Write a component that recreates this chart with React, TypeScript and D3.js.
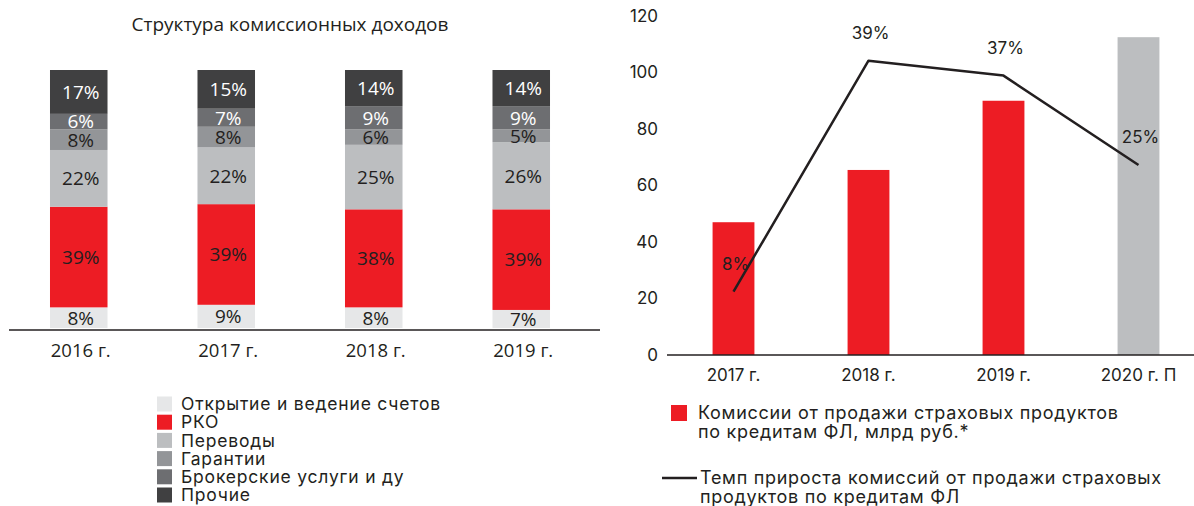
import React from "react";
import * as d3 from "d3";

// left chart: structure of commission income, %
const years = ["2016 г.", "2017 г.", "2018 г.", "2019 г."];
const categories = [
  "Открытие и ведение счетов",
  "РКО",
  "Переводы",
  "Гарантии",
  "Брокерские услуги и ду",
  "Прочие",
];
const shares = [
  [8, 39, 22, 8, 6, 17],
  [9, 39, 22, 8, 7, 15],
  [8, 38, 25, 6, 9, 14],
  [7, 39, 26, 5, 9, 14],
];

// right chart: insurance commissions
const years2 = ["2017 г.", "2018 г.", "2019 г.", "2020 г. П"];
const commissions = [47, 65.5, 90, 112.5];
const forecast = [false, false, false, true];
const growth = [8, 39, 37, 25];
const yTicks = [0, 20, 40, 60, 80, 100, 120];

const catColors = ["#e6e7e8", "#ed1c24", "#bcbec0", "#939598", "#6d6e71", "#404041"];
const catText = ["#231f20", "#231f20", "#231f20", "#231f20", "#ffffff", "#ffffff"];
const ink = "#231f20";
const leftFont = "'Open Sans', sans-serif";
const rightFont = "Inter, 'Noto Sans', sans-serif";

export default function App() {
  const x = d3.scaleBand().domain(years).range([5, 595]).paddingInner(0.61).paddingOuter(0.305);
  const y = d3.scaleLinear().domain([0, 100]).range([328, 70]);

  const stackData = years.map((yr, i) => {
    const row: any = { year: yr };
    categories.forEach((c, j) => (row[c] = shares[i][j]));
    return row;
  });
  const series = d3.stack().keys(categories)(stackData);

  const x2 = d3.scaleBand().domain(years2).range([666, 1206]).paddingInner(0.69).paddingOuter(0.345);
  const y2 = d3.scaleLinear().domain([0, 120]).range([355, 16]);
  const yg = d3.scaleLinear().domain([-0.5, 45]).range([355, 16]);
  const cx = (d: string) => (x2(d) as number) + x2.bandwidth() / 2;

  const line = d3
    .line<number>()
    .x((_, i) => cx(years2[i]))
    .y((d) => yg(d));

  return (
    <div style={{ position: "absolute", left: 0, top: 0 }}>
      <svg width={1194} height={506} style={{ display: "block", background: "#fff" }}>
        {/* left chart */}
        <text x={290} y={24} dy="0.35em" textAnchor="middle" fontFamily={leftFont} fontSize={19} fill={ink}>
          Структура комиссионных доходов
        </text>
        {series.map((s, j) => (
          <g key={s.key}>
            {s.map((d, i) => (
              <g key={i}>
                <rect
                  x={x(years[i])}
                  y={y(d[1])}
                  width={x.bandwidth()}
                  height={y(d[0]) - y(d[1])}
                  fill={catColors[j]}
                />
                <text
                  x={(x(years[i]) as number) + x.bandwidth() / 2 + 2}
                  y={(y(d[0]) + y(d[1])) / 2}
                  dy="0.36em"
                  textAnchor="middle"
                  fontFamily={leftFont}
                  fontSize={19}
                  fill={catText[j]}
                >
                  {shares[i][j]}%
                </text>
              </g>
            ))}
          </g>
        ))}
        <line x1={9} x2={600} y1={330} y2={330} stroke={ink} strokeWidth={1.5} />
        {years.map((yr) => (
          <text
            key={yr}
            x={(x(yr) as number) + x.bandwidth() / 2 + 2}
            y={351}
            dy="0.35em"
            textAnchor="middle"
            fontFamily={leftFont}
            fontSize={18.5}
            fill={ink}
          >
            {yr}
          </text>
        ))}
        {categories.map((c, j) => (
          <g key={c} transform={`translate(157,${404 + j * 18.2})`}>
            <rect x={0} y={-7.5} width={15} height={15} fill={catColors[j]} />
            <text x={24} y={0} dy="0.35em" fontFamily={rightFont} fontSize={17.5} letterSpacing={0.8} fill={ink}>
              {c}
            </text>
          </g>
        ))}

        {/* right chart */}
        {yTicks.map((t) => (
          <text key={t} x={658} y={y2(t)} dy="0.35em" textAnchor="end" fontFamily={rightFont} fontSize={17} fill={ink}>
            {t}
          </text>
        ))}
        {years2.map((yr, i) => (
          <rect
            key={yr}
            x={x2(yr)}
            y={y2(commissions[i])}
            width={x2.bandwidth()}
            height={y2(0) - y2(commissions[i])}
            fill={forecast[i] ? "#bcbec0" : "#ed1c24"}
          />
        ))}
        <line x1={667} x2={1194} y1={355} y2={355} stroke={ink} strokeWidth={1.5} />
        {years2.map((yr) => (
          <text key={yr} x={cx(yr)} y={375} dy="0.35em" textAnchor="middle" fontFamily={rightFont} fontSize={17} fill={ink}>
            {yr}
          </text>
        ))}
        <path d={line(growth) || ""} fill="none" stroke={ink} strokeWidth={2.5} strokeLinejoin="round" />
        {growth.map((g, i) => (
          <text
            key={i}
            x={cx(years2[i]) + 2}
            y={yg(g) - 28}
            dy="0.35em"
            textAnchor="middle"
            fontFamily={rightFont}
            fontSize={17}
            fill={ink}
          >
            {g}%
          </text>
        ))}

        {/* right legend */}
        <rect x={671} y={405} width={16} height={16} fill="#ed1c24" />
        <text fontFamily={rightFont} fontSize={18} letterSpacing={0.7} fill={ink}>
          <tspan x={698} y={413} dy="0.35em">Комиссии от продажи страховых продуктов</tspan>
          <tspan x={698} y={432} dy="0.35em">по кредитам ФЛ, млрд руб.*</tspan>
        </text>
        <line x1={662} x2={697} y1={478} y2={478} stroke={ink} strokeWidth={2.5} />
        <text fontFamily={rightFont} fontSize={18} letterSpacing={0.7} fill={ink}>
          <tspan x={700} y={478} dy="0.35em">Темп прироста комиссий от продажи страховых</tspan>
          <tspan x={700} y={497} dy="0.35em">продуктов по кредитам ФЛ</tspan>
        </text>
      </svg>
    </div>
  );
}
